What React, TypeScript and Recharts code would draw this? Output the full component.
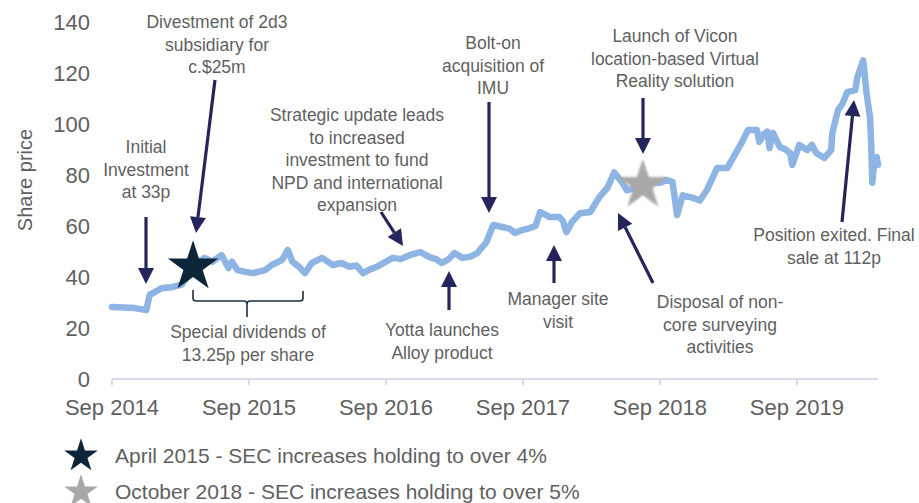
import React from 'react';
import { LineChart, Line, XAxis, YAxis, ReferenceDot } from 'recharts';

// months since Sep 2014, share price in pence
const months = [
  0, 1, 2, 3, 3.3, 4.4, 5.25, 6.1, 6.6, 7.1, 8.1, 8.8, 9.6, 10.2, 10.5, 11.0, 11.7, 12.3, 13.4, 14.0,
  14.9, 15.4, 15.8, 16.4, 16.9, 17.5, 18.4, 19.35, 20.1, 20.8, 21.4, 22.0, 22.6, 23.2, 24.0, 24.6, 25.3,
  26.1, 27.0, 27.8, 28.4, 28.9, 29.5, 30.0, 30.7, 31.4, 32.0, 32.8, 33.4, 34.2, 34.8, 35.3, 36.0, 36.6,
  37.1, 37.5, 38.35, 39.2, 39.5, 39.8, 40.3, 41.0, 41.9, 42.7, 43.4, 44.0, 44.7, 45.1, 45.8, 46.5, 47.3,
  48.0, 48.6, 49.1, 49.5, 50.0, 50.9, 51.5, 52.1, 53.0, 53.9, 54.4, 55.2, 55.7, 56.5, 56.7, 57.1, 57.4,
  57.6, 57.9, 58.5, 59.0, 59.4, 59.6, 60.2, 60.9, 61.3, 61.7, 62.4, 63.0, 63.1, 63.6, 64.0, 64.4, 65.1,
  65.3, 65.8, 65.9, 66.1, 66.4, 66.5, 66.6, 66.8, 67.0, 67.1,
];
const prices = [
  28.2, 28.0, 27.8, 27.0, 33, 35.7, 36, 37, 40, 44, 47.5, 46, 48.6, 43.5, 46, 42.7, 42, 41.5, 42.7, 44.7,
  46.7, 50.6, 46, 44, 41.5, 45.5, 47.5, 44.7, 45.5, 44, 44.5, 41.5, 43, 44, 46, 47.5, 47,
  48.6, 49.8, 47.8, 47, 45.5, 47, 49.4, 47.5, 48, 49.4, 53.7, 60.4, 59.6, 59, 57.3, 58.5, 59.2,
  60, 65.5, 63.5, 63.5, 62, 57.6, 61.6, 65, 65.5, 71.4, 75, 81, 77, 74, 75, 76, 77,
  77, 78, 77.3, 64.3, 72, 71, 70, 74, 82.7, 82.7, 86.7, 93, 97.6, 97.6, 93, 96, 97,
  90.6, 96.5, 91, 90, 88.6, 84, 91.8, 89.8, 91.8, 88.6, 86.7, 89.8, 96.5, 105.5, 108, 112.5, 113.3,
  118.4, 125, 121, 112, 102.7, 92.5, 77, 86, 87, 84,
];

const tickMonths = [0, 12, 24, 36, 48, 60];
const tickLabels = ['Sep 2014', 'Sep 2015', 'Sep 2016', 'Sep 2017', 'Sep 2018', 'Sep 2019'];
const yTicks = [0, 20, 40, 60, 80, 100, 120, 140];

const starMonths = [7.1, 46.5];
const starPrices = [44, 76];
const starColors = ['#0c2539', '#a8a8a8'];
const legendLabels = [
  'April 2015 - SEC increases holding to over 4%',
  'October 2018 - SEC increases holding to over 5%',
];

const data = months.map((m, i) => ({ m, price: prices[i] }));

const FONT = '"Liberation Sans", Arial, sans-serif';
const GREY = '#5f5f5f';
const NAVY = '#25255b';

const starPoints = (cx: number, cy: number, R: number) => {
  const r = R * 0.382;
  const pts: string[] = [];
  for (let i = 0; i < 10; i++) {
    const rad = i % 2 === 0 ? R : r;
    const a = -Math.PI / 2 + (i * Math.PI) / 5;
    pts.push(`${cx + rad * Math.cos(a)},${cy + rad * Math.sin(a)}`);
  }
  return pts.join(' ');
};

// annotation layout (pixels)
const notes = [
  { x: 146, y: 147, lines: ['Initial', 'Investment', 'at 33p'] },
  { x: 217, y: 22, lines: ['Divestment of 2d3', 'subsidiary for', 'c.$25m'] },
  { x: 357, y: 115, lines: ['Strategic update leads', 'to increased', 'investment to fund', 'NPD and international', 'expansion'] },
  { x: 493, y: 43, lines: ['Bolt-on', 'acquisition of', 'IMU'] },
  { x: 675, y: 36, lines: ['Launch of Vicon', 'location-based  Virtual', 'Reality solution'] },
  { x: 834, y: 235, lines: ['Position exited. Final', 'sale at 112p'] },
  { x: 248, y: 332, lines: ['Special dividends of', '13.25p per share'] },
  { x: 442, y: 330, lines: ['Yotta launches', 'Alloy product'] },
  { x: 558, y: 299, lines: ['Manager site', 'visit'] },
  { x: 720, y: 302, lines: ['Disposal of non-', 'core surveying', 'activities'] },
];

const arrows = [
  [146, 217, 146, 284],
  [215, 80, 196, 233],
  [381, 212, 403, 246],
  [489, 102, 489, 213],
  [449, 310, 449, 271],
  [554, 283, 554, 245],
  [643, 98, 643, 154],
  [653, 283, 618, 213],
  [842, 222, 854, 100],
];

const Arrow = ({ a }: { a: number[] }) => {
  const [x1, y1, x2, y2] = a;
  const len = Math.hypot(x2 - x1, y2 - y1);
  const dx = (x2 - x1) / len;
  const dy = (y2 - y1) / len;
  const bx = x2 - dx * 16;
  const by = y2 - dy * 16;
  const nx = -dy * 8;
  const ny = dx * 8;
  return (
    <g>
      <line x1={x1} y1={y1} x2={bx} y2={by} stroke={NAVY} strokeWidth={3.2} />
      <polygon points={`${x2},${y2} ${bx + nx},${by + ny} ${bx - nx},${by - ny}`} fill={NAVY} />
    </g>
  );
};

const App: React.FC = () => {
  return (
    <div style={{ position: 'absolute', left: 0, top: 0, width: 919, height: 503, background: '#fff' }}>
      <LineChart width={919} height={503} data={data} margin={{ top: 22, right: 41, bottom: 94, left: 0 }}>
        <defs>
          <filter id="soft" x="-20%" y="-20%" width="140%" height="140%">
            <feGaussianBlur stdDeviation="0.8" />
          </filter>
        </defs>
        <XAxis
          dataKey="m"
          type="number"
          domain={[0, 67.1]}
          ticks={tickMonths}
          tickFormatter={(v: number) => tickLabels[tickMonths.indexOf(v)] ?? ''}
          height={30}
          stroke="#d9d9ee"
          strokeWidth={2}
          tickSize={6}
          tickMargin={14}
          tick={{ fill: GREY, fontSize: 22, fontFamily: FONT }}
        />
        <YAxis
          type="number"
          domain={[0, 140]}
          ticks={yTicks}
          width={112}
          axisLine={false}
          tickLine={false}
          tickSize={0}
          tickMargin={22}
          tick={{ fill: GREY, fontSize: 22, fontFamily: FONT }}
        />
        <Line
          dataKey="price"
          type="linear"
          stroke="#8db4e2"
          strokeWidth={6.5}
          strokeLinejoin="round"
          strokeLinecap="round"
          dot={false}
          isAnimationActive={false}
        />
        {starMonths.map((m, i) => (
          <ReferenceDot
            key={`star-${i}`}
            x={m}
            y={starPrices[i]}
            r={26}
            shape={(p: any) => (
              <polygon
                points={starPoints(p.cx, p.cy, 26.5)}
                fill={starColors[i]}
                filter={i === 1 ? 'url(#soft)' : undefined}
              />
            )}
          />
        ))}
      </LineChart>
      <svg
        width={919}
        height={503}
        style={{ position: 'absolute', left: 0, top: 0, pointerEvents: 'none', fontFamily: FONT }}
      >
        <text
          x={25}
          y={180}
          transform="rotate(-90 25 180)"
          textAnchor="middle"
          dominantBaseline="central"
          fontSize={20}
          fill={GREY}
        >
          Share price
        </text>
        {notes.map((n, i) => (
          <text key={`n-${i}`} textAnchor="middle" fontSize={17.5} fill={GREY}>
            {n.lines.map((l, j) => (
              <tspan key={j} x={n.x} y={n.y + 6 + j * 22.5}>
                {l}
              </tspan>
            ))}
          </text>
        ))}
        {arrows.map((a, i) => (
          <Arrow key={`a-${i}`} a={a} />
        ))}
        <path
          d="M193,290 L193,298 Q193,301 196,301 L244,301 Q247,301 247,304 L247,317 M247,304 Q247,301 250,301 L300,301 Q303,301 303,298 L303,291"
          fill="none"
          stroke="#1c2e40"
          strokeWidth={1.6}
        />
        {legendLabels.map((l, i) => (
          <g key={`lg-${i}`}>
            <polygon points={starPoints(81, 456 + i * 36, 17.7)} fill={starColors[i]} />
            <text x={115} y={455 + i * 36 + 7.5} fontSize={21} fill={GREY}>
              {l}
            </text>
          </g>
        ))}
      </svg>
    </div>
  );
};

export default App;
